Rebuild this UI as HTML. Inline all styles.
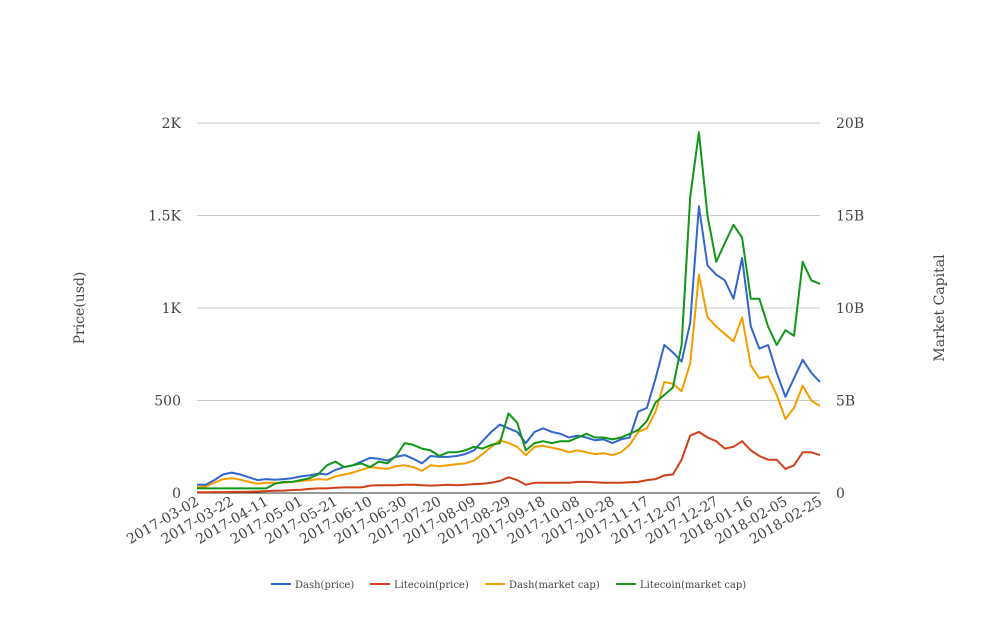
<!DOCTYPE html>
<html><head><meta charset="utf-8"><style>
html,body{margin:0;padding:0;background:#fff;}
svg text{font-family:"DejaVu Serif","Liberation Serif",serif;fill:#444;}
</style></head><body>
<svg id="chart" width="1008" height="616" xmlns="http://www.w3.org/2000/svg"></svg>
<script>
const days = [0,5,10,15,20,25,30,35,40,45,50,55,60,65,70,75,80,85,90,95,100,105,110,115,120,125,130,135,140,145,150,155,160,165,170,175,180,185,190,195,200,205,210,215,220,225,230,235,240,245,250,255,260,265,270,275,280,285,290,295,300,305,310,315,320,325,330,335,340,345,350,355,360];
const dashPrice = [45,45,70,100,110,100,85,70,75,72,75,80,90,95,105,100,125,140,150,170,190,185,175,195,205,185,160,200,195,195,200,210,230,280,330,370,350,330,270,330,350,330,320,300,310,300,285,290,270,290,300,440,460,620,800,760,710,920,1550,1230,1180,1150,1050,1270,900,780,800,650,520,620,720,650,600];
const ltcPrice = [4,4,5,5,6,6,7,8,10,12,13,16,18,22,25,25,28,30,30,30,40,42,42,42,45,45,42,40,42,45,42,45,48,50,55,65,85,70,45,55,55,55,55,55,60,60,58,55,55,55,58,60,70,75,95,100,180,310,330,300,280,240,250,280,230,200,180,180,130,150,220,220,205];
const dashCap = [0.3,0.35,0.55,0.75,0.8,0.72,0.6,0.5,0.55,0.55,0.55,0.6,0.65,0.7,0.75,0.72,0.9,1.0,1.1,1.25,1.4,1.35,1.3,1.45,1.5,1.4,1.2,1.5,1.45,1.5,1.55,1.6,1.75,2.1,2.5,2.85,2.7,2.5,2.05,2.5,2.55,2.45,2.35,2.2,2.3,2.2,2.1,2.15,2.05,2.2,2.6,3.3,3.5,4.4,6.0,5.9,5.5,7.0,11.8,9.5,9.0,8.6,8.2,9.5,6.9,6.2,6.3,5.3,4.0,4.6,5.8,5.0,4.7];
const ltcCap = [0.25,0.25,0.25,0.25,0.25,0.25,0.25,0.25,0.25,0.5,0.6,0.6,0.7,0.8,1.0,1.5,1.7,1.4,1.5,1.6,1.4,1.7,1.6,2.0,2.7,2.6,2.4,2.3,2.0,2.2,2.2,2.3,2.5,2.4,2.6,2.7,4.3,3.8,2.3,2.7,2.8,2.7,2.8,2.8,3.0,3.2,3.0,3.0,2.9,3.0,3.2,3.4,3.9,4.9,5.3,5.7,8.0,16.0,19.5,15.0,12.5,13.5,14.5,13.8,10.5,10.5,9.0,8.0,8.8,8.5,12.5,11.5,11.3];
const leftTicks = [0,500,1000,1500,2000];
const leftTickLabels = ["0","500","1K","1.5K","2K"];
const rightTickLabels = ["0","5B","10B","15B","20B"];
const xTickDays = [0,20,40,60,80,100,120,140,160,180,200,220,240,260,280,300,320,340,360];
const xTickLabels = ["2017-03-02","2017-03-22","2017-04-11","2017-05-01","2017-05-21","2017-06-10","2017-06-30","2017-07-20","2017-08-09","2017-08-29","2017-09-18","2017-10-08","2017-10-28","2017-11-17","2017-12-07","2017-12-27","2018-01-16","2018-02-05","2018-02-25"];

const svg = document.getElementById('chart');
const NS = 'http://www.w3.org/2000/svg';
const X0=197, X1=820, Y0=493, Y1=123;
const xs = d => X0 + d/360*(X1-X0);
const yL = v => Y0 - v/2000*(Y0-Y1);
const yR = v => Y0 - v/20*(Y0-Y1);
function mk(tag, attrs, parent){const e=document.createElementNS(NS,tag);for(const k in attrs)e.setAttribute(k,attrs[k]);(parent||svg).appendChild(e);return e;}

leftTicks.forEach((t,i)=>{
  if(t>0){const g=mk('line',{x1:X0,x2:X1,y1:yL(t),y2:yL(t),stroke:'#ccc','stroke-width':1});
  
  }
  const a=mk('text',{x:181,y:yL(t)+5,'text-anchor':'end','font-size':14});a.textContent=leftTickLabels[i];
  
  
  const b=mk('text',{x:836,y:yL(t)+5,'font-size':14});b.textContent=rightTickLabels[i];
  
  
});
const ax=mk('line',{x1:X0,x2:X1,y1:Y0,y2:Y0,stroke:'#333','stroke-width':1});



xTickDays.forEach((d,i)=>{
  const x=xs(d)+3, y=504;
  const t=mk('text',{x:x,y:y,'text-anchor':'end','font-size':14,transform:`rotate(-30 ${x} ${y})`});
  t.textContent=xTickLabels[i];
  
  
});

const yt=mk('text',{x:84,y:308,'text-anchor':'middle','font-size':14,transform:'rotate(-90 84 308)'});yt.textContent='Price(usd)';


const rt=mk('text',{x:944,y:308,'text-anchor':'middle','font-size':14,transform:'rotate(-90 944 308)'});rt.textContent='Market Capital';



function series(vals, yf, color, name){
  const p=mk('path',{d:vals.map((v,i)=>(i?'L':'M')+xs(days[i]).toFixed(1)+','+yf(v).toFixed(1)).join(''),fill:'none',stroke:color,'stroke-width':2,'stroke-linejoin':'round'});
  
  
}
series(dashCap, yR, '#f59d00', 'dash-market-cap-line');
series(ltcPrice, yL, '#d0401a', 'litecoin-price-line');
series(dashPrice, yL, '#3366cc', 'dash-price-line');
series(ltcCap, yR, '#109618', 'litecoin-market-cap-line');

const legend=[['Dash(price)','#3366cc',271],['Litecoin(price)','#d0401a',370],['Dash(market cap)','#f59d00',485],['Litecoin(market cap)','#109618',616]];
legend.forEach(l=>{
  const g=mk('g',{});
  
  
  mk('line',{x1:l[2],x2:l[2]+20,y1:584,y2:584,stroke:l[1],'stroke-width':2},g);
  const t=mk('text',{x:l[2]+24,y:588,'font-size':10},g);t.textContent=l[0];
});
</script>
</body></html>
